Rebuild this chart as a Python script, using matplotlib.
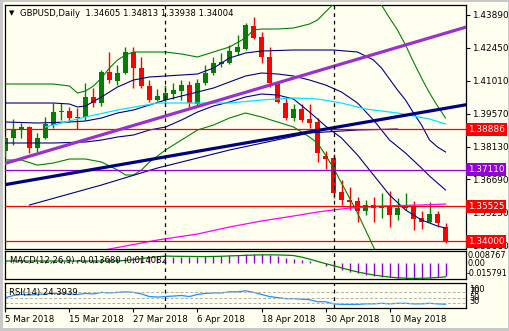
import numpy as np
import matplotlib
matplotlib.use("Agg")
import matplotlib.pyplot as plt
from matplotlib.patches import Rectangle

# ---------------- data ----------------
date_labels = ["5 Mar 2018", "15 Mar 2018", "27 Mar 2018", "6 Apr 2018",
               "18 Apr 2018", "30 Apr 2018", "10 May 2018"]
date_idx = [0, 8, 16, 24, 32, 40, 48]
month_sep = [20, 41]

opens = [1.37933, 1.38501, 1.38893, 1.38981, 1.38064, 1.38501, 1.39068, 1.39635,
         1.39679, 1.39417, 1.39417, 1.40290, 1.40028, 1.41381, 1.40988, 1.41337,
         1.42254, 1.41555, 1.40770, 1.40159, 1.40159, 1.40421, 1.40552, 1.40814,
         1.39984, 1.40901, 1.41337, 1.41730, 1.41774, 1.42254, 1.42385, 1.43388,
         1.42908, 1.42036, 1.40901, 1.40028, 1.39373, 1.39766, 1.39330, 1.39199,
         1.37715, 1.37628, 1.36144, 1.35795, 1.35751, 1.35315, 1.35577, 1.35446,
         1.35490, 1.35140, 1.35446, 1.35533, 1.35009, 1.34835, 1.35184, 1.34605]
highs = [1.38588, 1.39330, 1.39155, 1.39024, 1.38719, 1.39417, 1.40028, 1.40028,
         1.39854, 1.39810, 1.40901, 1.40683, 1.41468, 1.42254, 1.41686, 1.42472,
         1.42472, 1.42036, 1.41032, 1.40639, 1.40814, 1.40901, 1.41032, 1.40988,
         1.41075, 1.41686, 1.42036, 1.42210, 1.42559, 1.42996, 1.43519, 1.43781,
         1.43127, 1.42472, 1.40945, 1.40290, 1.39984, 1.39984, 1.39984, 1.39373,
         1.37933, 1.37802, 1.36668, 1.36362, 1.35926, 1.35795, 1.35926, 1.36100,
         1.36188, 1.35882, 1.36100, 1.35751, 1.35315, 1.35708, 1.35315, 1.34813]
lows = [1.37672, 1.38195, 1.38501, 1.37846, 1.37890, 1.38457, 1.38937, 1.39286,
        1.39199, 1.38893, 1.39286, 1.39854, 1.39897, 1.40901, 1.40814, 1.41294,
        1.40683, 1.40683, 1.40072, 1.40115, 1.40072, 1.40203, 1.40159, 1.39854,
        1.39854, 1.40814, 1.41250, 1.41599, 1.41730, 1.42123, 1.42341, 1.42821,
        1.41774, 1.40726, 1.40028, 1.39286, 1.39243, 1.39199, 1.38937, 1.37453,
        1.37148, 1.35882, 1.35577, 1.35359, 1.34835, 1.35140, 1.34835, 1.35009,
        1.34617, 1.34922, 1.35359, 1.34486, 1.34529, 1.34791, 1.34617, 1.33938]
closes = [1.38501, 1.38893, 1.38981, 1.38064, 1.38501, 1.39112, 1.39635, 1.39679,
          1.39373, 1.39352, 1.40290, 1.40028, 1.41381, 1.41032, 1.41337, 1.42254,
          1.41555, 1.40770, 1.40159, 1.40334, 1.40464, 1.40595, 1.40814, 1.40028,
          1.40901, 1.41337, 1.41774, 1.41817, 1.42297, 1.42472, 1.43432, 1.42865,
          1.42036, 1.40901, 1.40072, 1.39373, 1.39766, 1.39286, 1.39155, 1.37846,
          1.37584, 1.36100, 1.35795, 1.35708, 1.35315, 1.35577, 1.35446, 1.35490,
          1.35140, 1.35446, 1.35577, 1.34966, 1.34835, 1.35184, 1.34791, 1.34004]

# Bollinger type bands: (bar index, price)
bb2_up_i = [0, 2, 4, 6, 8, 9, 10, 11, 12, 13, 14, 15, 16, 18, 20, 22, 24, 26, 28, 30,
            31, 32, 34, 36, 38, 39, 40, 41, 42, 44, 46, 47, 48, 49, 50, 51, 52, 53, 54, 55]
bb2_up = [1.40857, 1.40857, 1.40857, 1.40857, 1.40770, 1.40464, 1.40552, 1.40770,
          1.41119, 1.41555, 1.41905, 1.42123, 1.42254, 1.42254, 1.42254, 1.42166,
          1.42036, 1.42254, 1.42472, 1.42865, 1.43214, 1.43257, 1.43257, 1.43301,
          1.43476, 1.43650, 1.43999, 1.44348, 1.44610, 1.44872, 1.44741, 1.44305,
          1.43738, 1.43214, 1.42559, 1.41817, 1.41119, 1.40464, 1.39897, 1.39373]
bb2_lo_i = [0, 2, 4, 6, 8, 10, 12, 14, 15, 16, 17, 18, 19, 20, 22, 24, 26, 28, 30, 32,
            34, 36, 38, 39, 40, 41, 42, 44, 46, 47, 48]
bb2_lo = [1.37541, 1.37541, 1.37317, 1.37410, 1.37584, 1.37584, 1.37453, 1.37104,
          1.36886, 1.36886, 1.37104, 1.37453, 1.37715, 1.37977, 1.38413, 1.38850,
          1.39068, 1.39373, 1.39592, 1.39417, 1.39199, 1.38981, 1.38544, 1.38283,
          1.37759, 1.37191, 1.36537, 1.35228, 1.33744, 1.33089, 1.32522]
bb1_up_i = [0, 6, 8, 9, 10, 12, 14, 16, 18, 20, 22, 24, 26, 28, 30, 32, 36, 41, 44, 46,
            47, 48, 49, 50, 51, 52, 53, 54, 55]
bb1_up = [1.40028, 1.40028, 1.39984, 1.39854, 1.39897, 1.40290, 1.40726, 1.41032,
          1.41163, 1.41206, 1.41250, 1.41294, 1.41555, 1.41992, 1.42210, 1.42297,
          1.42341, 1.42341, 1.42254, 1.41905, 1.41555, 1.41075, 1.40595, 1.40159,
          1.39592, 1.39068, 1.38413, 1.38108, 1.37890]
bb_mid_i = [0, 4, 8, 10, 12, 14, 16, 18, 20, 22, 24, 26, 28, 30, 32, 34, 36, 38, 40,
            42, 44, 46, 48, 50, 52, 53, 55]
bb_mid = [1.39199, 1.39155, 1.39199, 1.39243, 1.39373, 1.39592, 1.39723, 1.39941,
          1.40159, 1.40334, 1.40508, 1.40683, 1.40945, 1.41206, 1.41337, 1.41294,
          1.41206, 1.41032, 1.40814, 1.40508, 1.40028, 1.39286, 1.38413, 1.37846,
          1.37191, 1.36842, 1.36232]
bb1_lo_i = [0, 6, 10, 12, 14, 16, 18, 20, 22, 24, 26, 28, 30, 32, 34, 36, 38, 40, 42,
            44, 46, 48, 50, 52, 54, 55]
bb1_lo = [1.38283, 1.38283, 1.38326, 1.38413, 1.38544, 1.38632, 1.38850, 1.38981,
          1.39286, 1.39635, 1.39897, 1.40072, 1.40290, 1.40421, 1.40377, 1.40203,
          1.39635, 1.39024, 1.38501, 1.37759, 1.36886, 1.36013, 1.35359, 1.34922,
          1.34660, 1.34573]

# moving averages
ma_cyan_i = [5, 10, 14, 19, 28, 32, 36, 39, 42, 45, 49, 53, 55]
ma_cyan = [1.38981, 1.39417, 1.39723, 1.40028, 1.40028, 1.40159, 1.40246, 1.40203,
           1.40028, 1.39766, 1.39592, 1.39330, 1.39112]
ma_magenta_i = [10, 13, 19, 24, 28, 32, 36, 39, 43, 47, 52, 55]
ma_magenta = [1.33395, 1.33657, 1.34049, 1.34311, 1.34617, 1.34879, 1.35097, 1.35271,
              1.35446, 1.35533, 1.35577, 1.35620]
ma_navy_i = [3, 12, 19, 28, 38, 44, 49]
ma_navy = [1.35577, 1.36450, 1.37191, 1.37977, 1.38719, 1.38850, 1.38893]

# drawn objects
trend_purple = ([-0.5, 58.0], [1.37345, 1.43386])
trend_navy = ([-0.5, 58.0], [1.36438, 1.39979])
red_levels = [1.38886, 1.35525, 1.34000]
purple_level = 1.37110
price_ticks = [1.43890, 1.42450, 1.41010, 1.39570, 1.38130, 1.36690, 1.35250, 1.33810]

# MACD(12,26,9)
macd_main = [0.0012, 0.0010, 0.0012, 0.0010, 0.0011, 0.0014, 0.0018, 0.0020, 0.0021, 0.0022,
             0.0027, 0.0030, 0.0040, 0.0046, 0.0050, 0.0058, 0.0060, 0.0058, 0.0054, 0.0052,
             0.0052, 0.0054, 0.0057, 0.0055, 0.0058, 0.0062, 0.0066, 0.0070, 0.0075, 0.0080,
             0.0086, 0.008767, 0.0086, 0.0078, 0.0064, 0.0050, 0.0036, 0.0022, 0.0012, -0.0008,
             -0.0030, -0.0055, -0.0075, -0.0092, -0.0107, -0.0120, -0.0130, -0.0139, -0.0146,
             -0.0151, -0.0155, -0.015791, -0.0157, -0.0152, -0.0146, -0.013680]
macd_signal = [0.0016, 0.0016, 0.0016, 0.0016, 0.0016, 0.0016, 0.0016, 0.0016, 0.0016, 0.0016,
               0.0016, 0.0016, 0.0016, 0.0016, 0.0016, 0.0022, 0.0030, 0.0040, 0.0050, 0.0058,
               0.0065, 0.0063, 0.0062, 0.0061, 0.0060, 0.0060, 0.0061, 0.0063, 0.0066, 0.0069,
               0.0072, 0.0075, 0.0077, 0.0077, 0.0076, 0.0074, 0.0070, 0.0055, 0.0035, 0.0012,
               -0.0010, -0.0030, -0.0052, -0.0073, -0.0092, -0.0108, -0.0122, -0.0133, -0.0143,
               -0.0150, -0.0154, -0.0156, -0.0155, -0.0152, -0.0147, -0.014082]

# RSI(14)
rsi = [50, 58, 62, 60, 62, 64, 66, 66, 64, 62, 66, 64, 70, 68, 70, 72, 70, 64, 54, 52,
       54, 56, 58, 54, 62, 66, 68, 68, 72, 72, 76, 70, 62, 54, 50, 46, 46, 44, 42, 34,
       34, 26, 24, 24, 24, 26, 26, 28, 26, 28, 28, 26, 26, 28, 26, 24.3939]

# ---------------- style ----------------
BG = "#fffff0"
GREEN = "#008000"
RED = "#ff0000"
NAVY = "#000080"
PURPLE = "#9400d3"
W, H = 510, 331

fig = plt.figure(figsize=(W / 100, H / 100), dpi=100, facecolor=BG)


def px_axes(x0, y0, x1, y1):
    a = fig.add_axes([x0 / W, 1 - y1 / H, (x1 - x0) / W, (y1 - y0) / H])
    a.set_facecolor(BG)
    for s in a.spines.values():
        s.set_color("black")
        s.set_linewidth(0.9)
    a.set_xlim(-0.06, 57.56)
    a.set_xticks([])
    return a


def fig_text(x, y, s, **kw):
    fig.text(x / W, 1 - y / H, s, va="center", ha="left", **kw)


# figure border
fig.patches.extend([
    Rectangle((0, 0), 3 / W, 1, transform=fig.transFigure, fc="#c8c8c8", ec="none"),
    Rectangle((0, 1 - 2 / H), 1, 2 / H, transform=fig.transFigure, fc="#c8c8c8", ec="none"),
    Rectangle((0, 0), 1, 3 / H, transform=fig.transFigure, fc="#c8c8c8", ec="none"),
    Rectangle((1 - 2 / W, 0), 2 / W, 1, transform=fig.transFigure, fc="#c8c8c8", ec="none"),
])

ax = px_axes(5, 5, 466, 249)
axm = px_axes(5, 251, 466, 279)
axr = px_axes(5, 283, 466, 308)

# ---------------- main price panel ----------------
x = np.arange(len(opens))
o, h, l, c = map(np.array, (opens, highs, lows, closes))
up = c >= o
cols = np.where(up, GREEN, RED)
ax.vlines(x, l, h, colors=cols, lw=1.0, zorder=3)
ax.bar(x, np.maximum(np.abs(c - o), 0.0005), bottom=np.minimum(o, c), width=0.62,
       color=cols, lw=0, zorder=3)

ax.plot(bb2_up_i, bb2_up, color=GREEN, lw=0.8, zorder=4)
ax.plot(bb2_lo_i, bb2_lo, color=GREEN, lw=0.8, zorder=4)
ax.plot(bb1_up_i, bb1_up, color=NAVY, lw=0.8, zorder=4)
ax.plot(bb_mid_i, bb_mid, color=NAVY, lw=0.8, zorder=4)
ax.plot(bb1_lo_i, bb1_lo, color=NAVY, lw=0.8, zorder=4)
ax.plot(ma_cyan_i, ma_cyan, color="#00e5ff", lw=0.9, zorder=4)
ax.plot(ma_magenta_i, ma_magenta, color="#ff00ff", lw=0.9, zorder=4)
ax.plot(ma_navy_i, ma_navy, color=NAVY, lw=0.8, zorder=4)

for v in red_levels:
    ax.axhline(v, color=RED, lw=0.9, zorder=5)
ax.axhline(purple_level, color=PURPLE, lw=0.9, zorder=5)
ax.plot(*trend_purple, color="#9932cc", lw=2.3, zorder=6, solid_capstyle="butt")
ax.plot(*trend_navy, color=NAVY, lw=2.3, zorder=6, solid_capstyle="butt")

ax.set_ylim(1.33657, 1.44305)
ax.yaxis.tick_right()
ax.set_yticks(price_ticks)
ax.set_yticklabels([f"{v:.5f}" for v in price_ticks])
ax.tick_params(axis="y", direction="out", length=3, width=0.8, pad=1.5,
               labelsize=6.4, colors="black")

for v, col in [(1.38886, RED), (1.37110, PURPLE), (1.35525, RED), (1.34000, RED)]:
    ax.text(1.004, v, f"{v:.5f}", transform=ax.get_yaxis_transform(), ha="left",
            va="center", fontsize=6.4, color="white", clip_on=False, zorder=10,
            bbox=dict(boxstyle="square,pad=0.22", fc=col, ec="none"))

fig_text(9, 13, "\u25bc", fontsize=5)
fig_text(20, 13, "GBPUSD,Daily  1.34605 1.34813 1.33938 1.34004", fontsize=6.1)

# ---------------- MACD panel ----------------
axm.vlines(x, 0, macd_main, colors=PURPLE, lw=1.0)
axm.plot(x, macd_signal, color=GREEN, lw=0.9)
axm.set_ylim(-0.0162, 0.0115)
axm.set_yticks([])
fig_text(10, 260, "MACD(12,26,9) -0.013680 -0.014082", fontsize=6.1)
fig_text(468, 256, "0.008767", fontsize=5.9)
fig_text(468, 264, "0.00", fontsize=5.9)
fig_text(467, 273, "-0.015791", fontsize=5.8)

# ---------------- RSI panel ----------------
axr.plot(x, rsi, color="#1e90ff", lw=0.9)
for lvl in (70, 50, 30):
    axr.axhline(lvl, color="#b0b0b0", lw=0.7, ls=(0, (3, 2)))
axr.set_ylim(10, 106)
axr.set_yticks([])
fig_text(9, 293, "RSI(14) 24.3939", fontsize=6.1)
for lab, yy in [("100", 289), ("70", 292), ("50", 297), ("30", 302)]:
    fig_text(469, yy, lab, fontsize=5.9)

axr.set_xticks(date_idx)
axr.set_xticklabels(date_labels)
for t in axr.get_xticklabels():
    t.set_ha("left")
axr.tick_params(axis="x", direction="out", length=3, width=0.8, pad=2, labelsize=6.2)

for a in (ax, axm, axr):
    for s in month_sep:
        a.axvline(s, color="black", lw=0.9, ls=(0, (3, 3)), zorder=7)

fig.savefig("out.png", dpi=100, facecolor=BG)
